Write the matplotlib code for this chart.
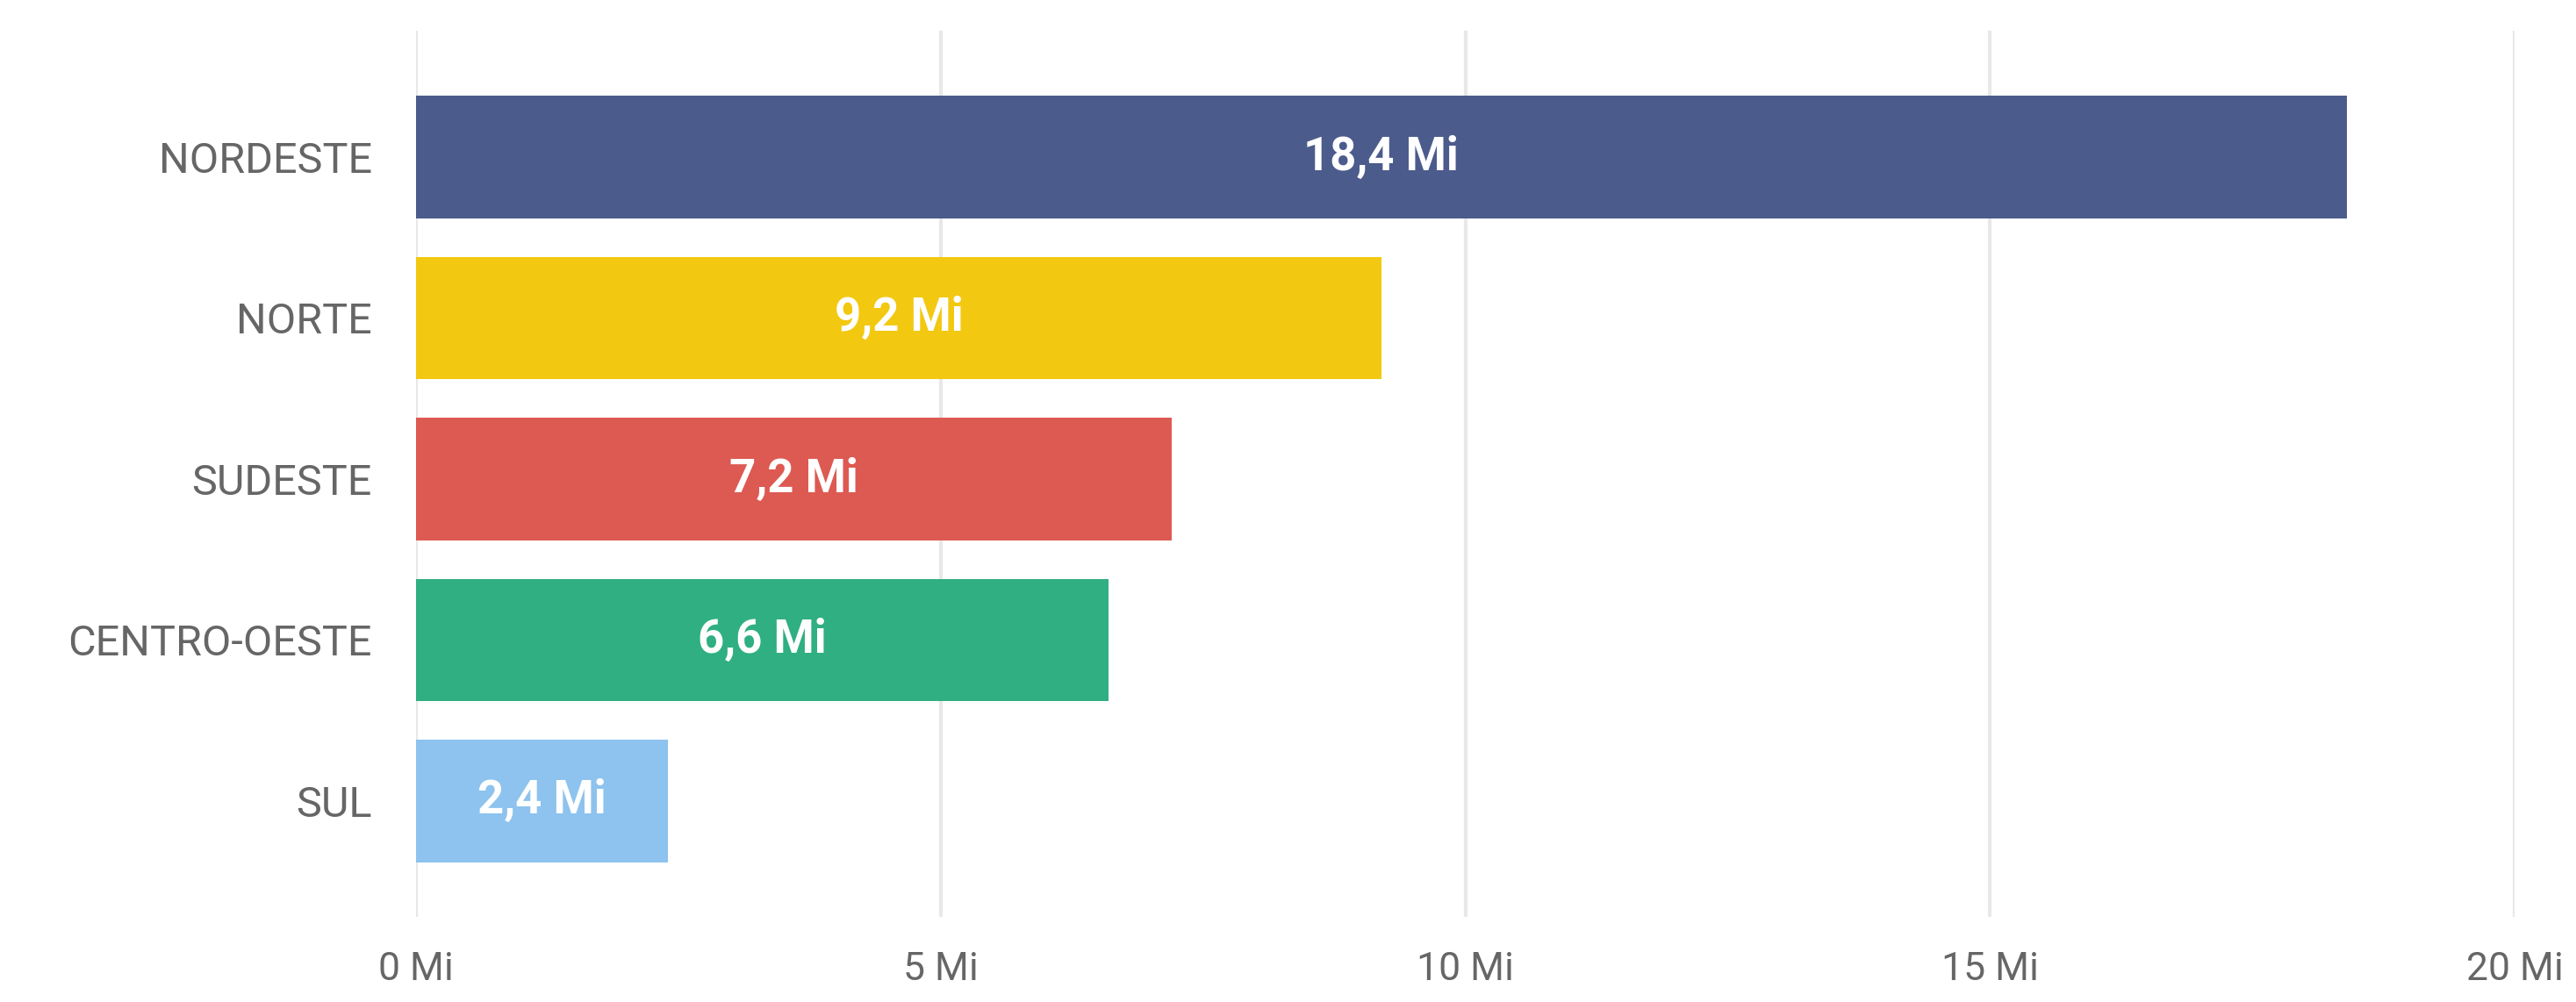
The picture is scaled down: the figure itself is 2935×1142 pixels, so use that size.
import matplotlib
matplotlib.use("Agg")
import matplotlib.pyplot as plt
from matplotlib.ticker import FuncFormatter

regions = ["NORDESTE", "NORTE", "SUDESTE", "CENTRO-OESTE", "SUL"]
values = [18.4, 9.2, 7.2, 6.6, 2.4]
colors = ["#4B5B8C", "#F2C811", "#DD5A52", "#2FAF82", "#8DC3EE"]
xticks = [0, 5, 10, 15, 20]

plt.rcParams['font.family'] = ['Roboto', 'DejaVu Sans']

fig = plt.figure(figsize=(29.35, 11.42), dpi=100)
ax = fig.add_axes([474/2935, 1 - 1045/1142, (2865-474)/2935, (1045-35)/1142])

y = list(range(len(regions)))
ax.barh(y, values, height=0.76, color=colors, zorder=2)
for yi, v in zip(y, values):
    ax.text(v / 2, yi, f"{v:.1f}".replace(".", ",") + " Mi", ha="center", va="center",
            color="white", fontsize=38, fontweight="bold", zorder=3)

ax.set_xlim(0, 20)
ax.set_ylim(4.72, -0.785)
ax.set_xticks(xticks)
ax.xaxis.set_major_formatter(FuncFormatter(lambda x, p: f"{int(x)} Mi"))
ax.set_yticks(y)
ax.set_yticklabels(regions)
ax.grid(axis="x", color="#E8E8E8", linewidth=3, zorder=0)
for s in ax.spines.values():
    s.set_visible(False)
ax.tick_params(axis="both", length=0, labelcolor="#666666")
ax.tick_params(axis="y", pad=36, labelsize=35)
ax.tick_params(axis="x", pad=28, labelsize=32)

fig.savefig("out.png", dpi=100, facecolor="white")
